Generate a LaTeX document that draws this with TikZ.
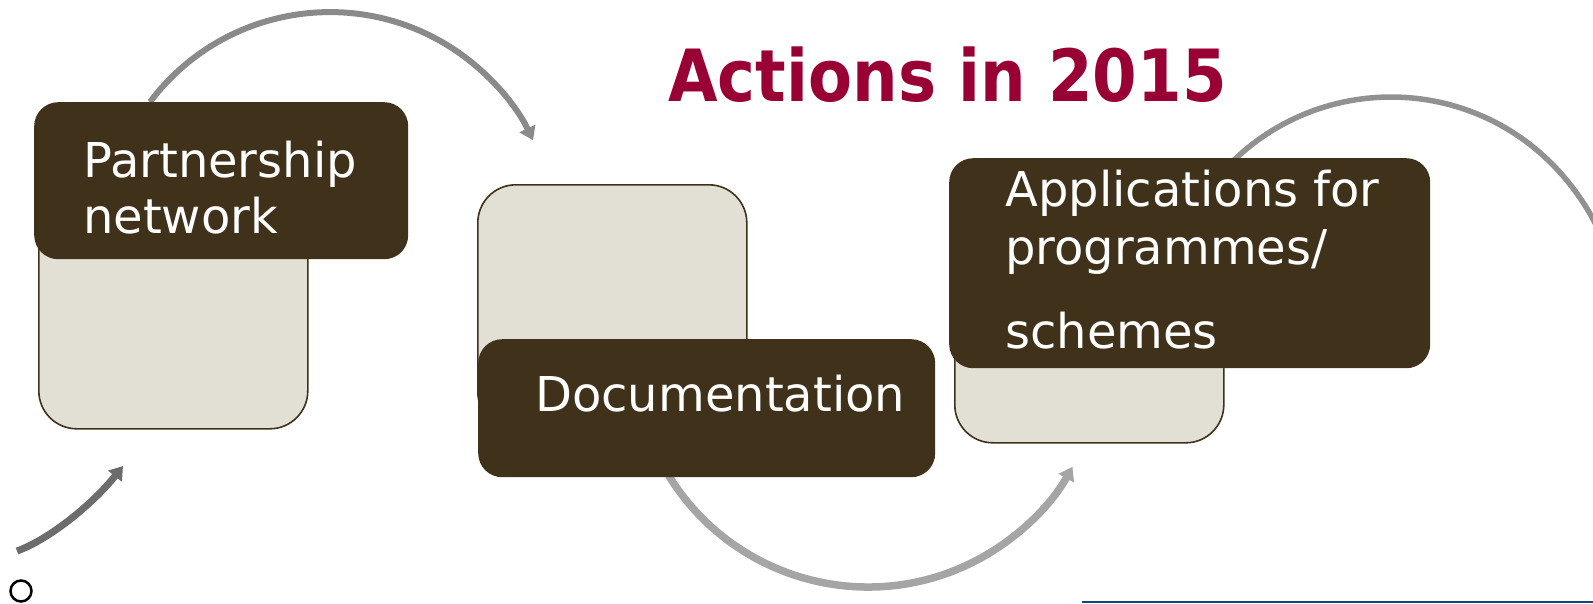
\documentclass[tikz,border=0pt]{standalone}
\usepackage{fontspec}
\setmainfont{DejaVu Sans}
\usetikzlibrary{arrows.meta}
\definecolor{darkbrown}{RGB}{64,49,26}
\definecolor{lightbeige}{RGB}{226,223,213}
\definecolor{titlered}{RGB}{153,0,51}
\definecolor{navyline}{RGB}{16,72,122}
\definecolor{arcA}{RGB}{138,138,138}
\definecolor{arcB}{RGB}{165,165,165}
\definecolor{arcC}{RGB}{145,145,145}
\definecolor{arcD}{RGB}{108,108,108}
\begin{document}
\begin{tikzpicture}[x=1pt,y=-1pt,
  lightbox/.style={draw=darkbrown, line width=1.6pt, fill=lightbeige, rounded corners=38pt,
    minimum width=269pt, minimum height=245pt, anchor=north west, inner sep=0pt},
  darkbox/.style={fill=darkbrown, rounded corners=24pt, anchor=north west, inner sep=0pt},
  boxtext/.style={text=white, font=\fontsize{48}{56}\selectfont, anchor=base west, inner sep=0pt},
  flow/.style={line width=6pt, -{Triangle[width=17pt,length=13pt]}},
]
\useasboundingbox (0,0) rectangle (1593,603);

% curved arrows (behind the boxes)
\begin{scope}
  \clip (0,0) rectangle (1593,603);
  \coordinate (c1s) at (150,102);
  \draw[flow, arcA, line width=6pt] (c1s) arc[start angle=-143.1, end angle=-25.5, radius=225];
  \coordinate (c2s) at (665.4,470);
  \draw[flow, arcB, line width=7.5pt] (c2s) arc[start angle=150, end angle=29.1, radius=234];
  \coordinate (c3s) at (1230.5,163.5);
  \draw[flow, arcC, line width=5.5pt] (c3s) arc[start angle=-135, end angle=-15, radius=227];
  \coordinate (c4s) at (17,551);
  \coordinate (c4e) at (123,466);
  \draw[flow, arcD, line width=7pt] (c4s) .. controls (48,540) and (92,505) .. (c4e);
\end{scope}

% light boxes
\node[lightbox] (l1) at (38,183) {};
\node[lightbox] (l2) at (477,184) {};
\node[lightbox] (l3) at (954,197) {};

% dark boxes
\node[darkbox, minimum width=374pt, minimum height=157pt] (d1) at (34,102) {};
\node[darkbox, minimum width=457pt, minimum height=138pt] (d2) at (478,339) {};
\node[darkbox, minimum width=481pt, minimum height=210pt] (d3) at (949,158) {};

% texts
\node[boxtext] (t1a) at (83,177) {Partnership};
\node[boxtext] (t1b) at (83,233) {network};
\node[boxtext] (t2) at (535,411) {Documentation};
\node[boxtext] (t3a) at (1005,206) {Applications for};
\node[boxtext] (t3b) at (1005,264) {programmes/};
\node[boxtext] (t3c) at (1005,348) {schemes};

% title
\node[anchor=base west, text=titlered, inner sep=0pt,
  font=\fontsize{72}{80}\selectfont\bfseries] (title) at (668,101) {\scalebox{0.89}[1]{Actions in 2015}};

% small ring and bottom line
\node[circle, draw=black, line width=2.5pt, minimum size=21pt, inner sep=0pt] (ring) at (21,591) {};
\coordinate (bl1) at (1082,602);
\coordinate (bl2) at (1593,602);
\draw[navyline, line width=2pt] (bl1) -- (bl2);
\end{tikzpicture}
\end{document}
